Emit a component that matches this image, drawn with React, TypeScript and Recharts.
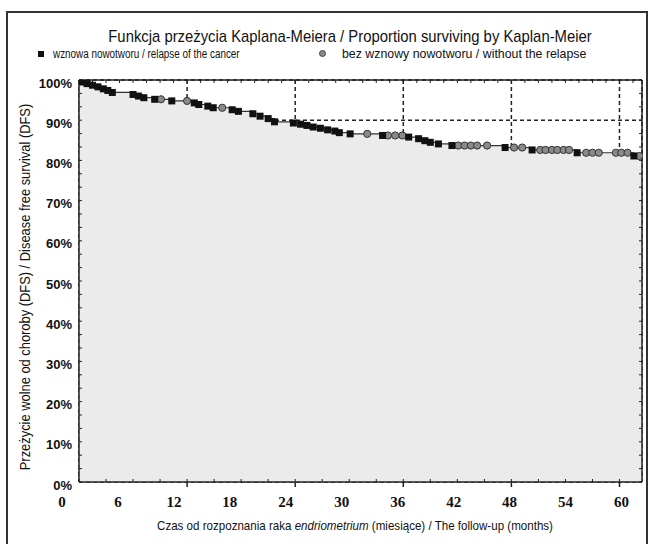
import React from "react";
import { ComposedChart, Area, Scatter, XAxis, YAxis, CartesianGrid } from "recharts";

// Kaplan-Meier events (relapse) – time in months, survival in %
const eventTimes = [0.3, 0.9, 1.5, 2.1, 2.7, 3.2, 3.7, 6.0, 6.6, 7.2, 8.4, 10.3, 12.8, 13.3, 14.3, 14.9, 17.0, 17.7, 19.3, 20.1, 21.0, 21.7, 23.8, 24.6, 25.3, 26.0, 26.8, 27.6, 28.4, 28.9, 30.1, 33.7, 36.6, 37.7, 38.4, 39.0, 39.9, 41.4, 47.3, 50.3, 55.3, 61.6];
const eventSurvival = [99.5, 99.1, 98.7, 98.3, 97.8, 97.4, 96.9, 96.4, 96.0, 95.6, 95.2, 94.8, 94.3, 93.9, 93.5, 93.1, 92.6, 92.2, 91.6, 91.0, 90.4, 89.6, 89.3, 89.0, 88.7, 88.3, 88.0, 87.6, 87.3, 86.9, 86.6, 86.2, 85.8, 85.4, 84.9, 84.5, 84.1, 83.7, 83.2, 82.6, 81.9, 81.1];

// censored observations (without relapse)
const censoredTimes = [9.1, 12.0, 15.9, 32.0, 34.3, 35.1, 35.9, 42.1, 42.8, 43.5, 44.2, 45.3, 48.3, 49.2, 51.2, 51.8, 52.5, 53.1, 53.8, 54.4, 56.3, 57.0, 57.7, 59.6, 60.2, 60.9, 62.2];
const censoredSurvival = [95.2, 94.8, 93.1, 86.6, 86.2, 86.2, 86.2, 83.7, 83.7, 83.7, 83.7, 83.7, 83.2, 83.2, 82.6, 82.6, 82.6, 82.6, 82.6, 82.6, 81.9, 81.9, 81.9, 81.9, 81.9, 81.9, 81.1];

const startPoint = { t: 0, s: 100 };
const endPoint = { t: 62.5, s: 81.1 };

const xTickLabels = [0, 6, 12, 18, 24, 30, 36, 42, 48, 54, 60];
const xMajorTicks = [12, 24, 36, 48, 60];
const yTickValues = [0, 10, 20, 30, 40, 50, 60, 70, 80, 90, 100];
const xMinorTicks = Array.from({ length: 21 }, (_, i) => i * 3);
const xTopTicks = Array.from({ length: 42 }, (_, i) => i * 1.5);
const yMinorTicks = Array.from({ length: 31 }, (_, i) => (i * 10) / 3);

const events = eventTimes.map((t, i) => ({ t, s: eventSurvival[i] }));
const censored = censoredTimes.map((t, i) => ({ t, s: censoredSurvival[i] }));
const curve = [startPoint, ...events, ...censored, endPoint].sort((a, b) => a.t - b.t);

const SANS = '"Liberation Sans", Arial, sans-serif';
const AXIS = "#222";
const noLabel = () => "";

const SquareShape = (p: any) => (
  <rect x={p.cx - 3.5} y={p.cy - 3.5} width={7} height={7} fill="#111" />
);
const CircleShape = (p: any) => (
  <circle cx={p.cx} cy={p.cy} r={3.6} fill="#8a8a8a" stroke="#333" strokeWidth={1} />
);

const textBase: React.CSSProperties = { position: "absolute", fontFamily: SANS, color: "#111", whiteSpace: "nowrap" };

export default function App() {
  return (
    <div style={{ position: "absolute", left: 0, top: 0, width: 649, height: 544, background: "#fff", overflow: "hidden" }}>
      <div style={{ position: "absolute", left: 6, top: 11, width: 638, height: 600, borderLeft: "2px solid #333", borderTop: "2px solid #333", borderRight: "2px solid #333" }} />
      <div style={{ ...textBase, left: 350, top: 37, fontSize: 17, lineHeight: "20px", transform: "translate(-50%, -50%) scaleX(0.873)" }}>
        Funkcja przeżycia Kaplana-Meiera / Proportion surviving by Kaplan-Meier
      </div>
      <div style={{ position: "absolute", left: 38, top: 51, width: 6, height: 6, background: "#111" }} />
      <div style={{ ...textBase, left: 53, top: 46, fontSize: 12.5, lineHeight: "16px", transform: "scaleX(0.79)", transformOrigin: "0 50%" }}>
        wznowa nowotworu / relapse of the cancer
      </div>
      <div style={{ position: "absolute", left: 319, top: 50, width: 7, height: 7, borderRadius: "50%", background: "#8a8a8a", boxSizing: "border-box", border: "1px solid #444" }} />
      <div style={{ ...textBase, left: 342, top: 46, fontSize: 13, lineHeight: "16px", transform: "scaleX(0.95)", transformOrigin: "0 50%" }}>
        bez wznowy nowotworu / without the relapse
      </div>
      <div style={{ ...textBase, left: 25, top: 287, fontSize: 14, lineHeight: "16px", transform: "translate(-50%, -50%) rotate(-90deg) scaleX(0.92)" }}>
        Przeżycie wolne od choroby (DFS) / Disease free survival (DFS)
      </div>
      <div style={{ ...textBase, left: 355, top: 526, fontSize: 13, lineHeight: "16px", transform: "translate(-50%, -50%) scaleX(0.89)" }}>
        Czas od rozpoznania raka <i>endriometrium</i> (miesiące) / The follow-up (months)
      </div>
      <div style={{ position: "absolute", left: 0, top: 0 }}>
        <ComposedChart width={649} height={544} data={curve} margin={{ top: 80, right: 7, bottom: 0, left: 0 }}>
          <CartesianGrid xAxisId="x" yAxisId="ylab" stroke={AXIS} strokeWidth={1.5} strokeDasharray="4 3" />
          <Area xAxisId="x" yAxisId="y" type="stepAfter" dataKey="s" stroke="#333" strokeWidth={1.2} fill="#ebebeb" fillOpacity={1} isAnimationActive={false} dot={false} activeDot={false} />
          <Scatter xAxisId="x" yAxisId="y" data={censored} dataKey="s" shape={CircleShape} isAnimationActive={false} />
          <Scatter xAxisId="x" yAxisId="y" data={events} dataKey="s" shape={SquareShape} isAnimationActive={false} />
          <XAxis xAxisId="x" type="number" dataKey="t" domain={[0, 62.5]} allowDataOverflow ticks={xMajorTicks} interval={0} tickFormatter={noLabel} tickSize={5} height={6} axisLine={{ stroke: AXIS, strokeWidth: 1.5 }} tickLine={{ stroke: AXIS, strokeWidth: 1.5 }} />
          <XAxis xAxisId="xlab" type="number" dataKey="t" domain={[0, 60]} allowDataOverflow ticks={xTickLabels} interval={0} padding={{ left: -17, right: 20.5 }} tickSize={0} tickMargin={8} height={56} axisLine={false} tickLine={false} tick={{ fontFamily: '"Liberation Serif", "Times New Roman", serif', fontWeight: "bold", fontSize: 15, fill: "#111" }} />
          <XAxis xAxisId="xminor" mirror type="number" dataKey="t" domain={[0, 62.5]} allowDataOverflow ticks={xMinorTicks} interval={0} tickFormatter={noLabel} tickSize={3} height={10} axisLine={false} tickLine={{ stroke: AXIS }} />
          <XAxis xAxisId="xtop" orientation="top" mirror type="number" dataKey="t" domain={[0, 62.5]} allowDataOverflow ticks={xTopTicks} interval={0} tickFormatter={noLabel} tickSize={3} height={10} axisLine={{ stroke: AXIS, strokeWidth: 1.5 }} tickLine={{ stroke: AXIS }} />
          <YAxis yAxisId="ylab" type="number" domain={[0, 100]} allowDataOverflow ticks={yTickValues} interval={0} tickFormatter={(v: number) => `${v}%`} tickSize={0} tickMargin={7} width={79} axisLine={{ stroke: AXIS, strokeWidth: 1.5 }} tickLine={false} tick={{ fontFamily: SANS, fontWeight: "bold", fontSize: 13, fill: "#111", dy: 3 }} />
          <YAxis yAxisId="y" mirror type="number" domain={[0, 100]} allowDataOverflow ticks={yMinorTicks} interval={0} tickFormatter={noLabel} tickSize={3} width={10} axisLine={false} tickLine={{ stroke: AXIS }} />
          <YAxis yAxisId="yright" orientation="right" mirror type="number" domain={[0, 100]} allowDataOverflow ticks={yMinorTicks} interval={0} tickFormatter={noLabel} tickSize={3} width={10} axisLine={{ stroke: AXIS, strokeWidth: 1.5 }} tickLine={{ stroke: AXIS }} />
        </ComposedChart>
      </div>
    </div>
  );
}
